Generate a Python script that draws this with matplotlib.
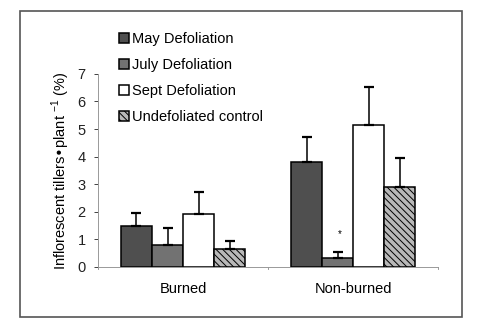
import numpy as np
import matplotlib
matplotlib.use("Agg")
import matplotlib.pyplot as plt
from matplotlib.patches import Rectangle

plt.rcParams["font.family"] = ["Liberation Sans", "DejaVu Sans"]
plt.rcParams["hatch.color"] = "#3a3a3a"
plt.rcParams["hatch.linewidth"] = 0.7

# Data
groups = ["Burned", "Non-burned"]
treatments = ["May Defoliation", "July Defoliation", "Sept Defoliation", "Undefoliated control"]
means = {
    "May Defoliation": [1.50, 3.80],
    "July Defoliation": [0.80, 0.33],
    "Sept Defoliation": [1.92, 5.14],
    "Undefoliated control": [0.65, 2.90],
}
errors = {
    "May Defoliation": [0.45, 0.90],
    "July Defoliation": [0.60, 0.22],
    "Sept Defoliation": [0.80, 1.38],
    "Undefoliated control": [0.30, 1.05],
}
yticks = [0, 1, 2, 3, 4, 5, 6, 7]

# styling per treatment
face = ["#4f4f4f", "#727272", "white", "#b8b8b8"]
hatch = [None, None, None, "\\\\\\\\\\"]

fig = plt.figure(figsize=(4.81, 3.2), dpi=100)
ax = fig.add_axes([0.204, 0.166, 0.707, 0.603])

x = np.arange(len(groups))
width = 0.183
for i, t in enumerate(treatments):
    pos = x + (i - 1.5) * width
    ax.bar(pos, means[t], width, color=face[i], edgecolor="black", linewidth=1.1,
           hatch=hatch[i], label=t, zorder=2)
    ax.errorbar(pos, means[t], yerr=[np.zeros(len(groups)), errors[t]], fmt="none",
                ecolor="black", elinewidth=1.1, capsize=3.5, capthick=1.6, zorder=3)

# small significance mark above the July bar (non-burned)
ax.text(x[1] - 0.5 * width + 0.01, 1.18, "*", fontsize=7, ha="center", va="center")

ax.set_xlim(-0.5, 1.5)
ax.set_ylim(0, 7)
ax.set_yticks(yticks)
ax.set_xticks(x)
ax.set_xticklabels(groups, fontsize=10.5)
ax.tick_params(axis="x", length=0, pad=11)
ax.tick_params(axis="y", labelsize=10.5, length=3, width=0.6, direction="out", pad=6, colors="#222222")
# category separator ticks like the original
for xs in [-0.5, 0.5, 1.5]:
    ax.plot([xs, xs], [0, -0.07], color="#888888", lw=0.6, clip_on=False)

for s in ["top", "right"]:
    ax.spines[s].set_visible(False)
ax.spines["left"].set_color("#999999")
ax.spines["bottom"].set_color("#999999")
ax.spines["left"].set_linewidth(0.7)
ax.spines["bottom"].set_linewidth(0.7)

ax.set_ylabel("Inflorescent tillers\u2022plant $^{\\mathregular{-1}}$ (%)", fontsize=10.5, labelpad=4)

ax.legend(loc="upper left", bbox_to_anchor=(0.235, 0.918), bbox_transform=fig.transFigure,
          frameon=False, fontsize=10.5, handlelength=0.7, handleheight=0.7,
          handletextpad=0.2, labelspacing=0.82, borderaxespad=0)

# outer frame around the chart
fig.patches.append(Rectangle((20 / 481, 3 / 320), 442 / 481, 306 / 320, transform=fig.transFigure,
                             fill=False, edgecolor="#555555", linewidth=1.2))

fig.savefig("out.png", dpi=100)
